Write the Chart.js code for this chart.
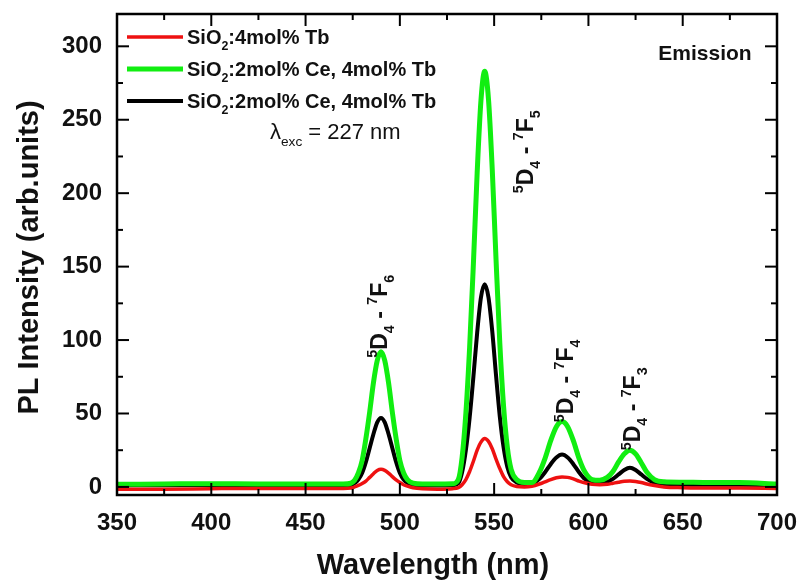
<!DOCTYPE html>
<html>
<head>
<meta charset="utf-8">
<script src="https://cdn.jsdelivr.net/npm/chart.js@4.4.1/dist/chart.umd.min.js"></script>
<style>
  html, body { margin: 0; padding: 0; background: #fff; }
  #wrap { width: 799px; height: 584px; }
</style>
</head>
<body>
<div id="wrap"><canvas id="myChart" width="799" height="584"></canvas></div>
<script>
// wavelength (nm) and PL intensity
const wavelengths = [350, 375, 400, 425, 450, 470, 474, 476, 478, 480, 482, 484, 486, 488, 490, 492, 494, 496, 498, 500, 502, 504, 507, 512, 520, 528, 531, 533, 535, 537, 539, 541, 543, 545, 547, 549, 551, 553, 555, 557, 559, 562, 566, 570, 574, 577, 580, 583, 586, 589, 592, 595, 598, 602, 606, 610, 613, 616, 619, 622, 625, 628, 631, 635, 640, 650, 665, 680, 700];

const tb4 = [-1.5, -1.5, -1.2, -1, -1, -1, -0.8, 0, 1, 2.3, 4, 6.5, 9, 11.2, 12, 11.3, 9.4, 7, 4.8, 3, 1.5, 0.5, -0.5, -1.2, -1.5, -1.2, -0.5, 1.5, 5, 10.5, 17.5, 25, 30.5, 33, 31, 26, 19, 12.5, 7, 3.5, 1.5, 0.3, 0, 0.5, 2, 3.5, 5, 6.2, 6.8, 6.5, 5.5, 4, 2.8, 1.8, 1.5, 1.8, 2.5, 3.2, 3.8, 4, 3.7, 3, 2, 1, 0, -0.5, -0.8, -0.8, -1];

const ceTbGreen = [1.8, 2, 2.2, 2, 2, 2, 2.5, 4.5, 9.5, 18, 33, 51, 71, 86, 92, 86, 71, 51, 33, 18, 9.5, 5, 2.6, 2, 2, 2.2, 5, 20, 50, 95, 152, 214, 263, 283, 264, 216, 155, 98, 55, 27, 12, 5, 3, 3, 10, 19.5, 31.5, 41, 44.5, 41, 31.5, 19.5, 10.5, 5, 4.5, 6.5, 10.5, 17, 22.5, 25, 22.5, 16.5, 10, 5, 3.5, 3.2, 3, 3, 2];

const ceTbBlack = [1, 1.2, 1.3, 1.2, 1, 1, 1.3, 2.5, 5, 9.5, 17, 26.5, 36, 44, 47, 44, 36, 26.5, 17, 9.5, 5, 2.8, 1.5, 1, 1, 1.2, 2.5, 10, 25, 47, 75, 105, 129, 138, 129, 106, 76, 48, 27, 13.5, 6.5, 3, 1.8, 2, 5.5, 10, 15.5, 20, 22, 20, 15.5, 10, 5.5, 2.8, 2.4, 3.5, 5.5, 8.5, 11.5, 13, 11.5, 8.5, 5.5, 2.8, 1.8, 1.5, 1.5, 1.4, 1.2];

const xTicks = [350, 400, 450, 500, 550, 600, 650, 700];
const xMinor = [375, 425, 475, 525, 575, 625, 675];
const yTicks = [0, 50, 100, 150, 200, 250, 300];
const yMinor = [25, 75, 125, 175, 225, 275];

// peak labels: [x nm, y value] where the rotated text starts, and the last subscript
const peakLabels = [
    { at: [493, 88], f: '6' },
    { at: [570.5, 200], f: '5' },
    { at: [592, 44], f: '4' },
    { at: [627.5, 25], f: '3' }
];

const FONT = '"Liberation Sans", Arial, Helvetica, sans-serif';

function pts(vals) {
    return wavelengths.map((w, i) => ({ x: w, y: vals[i] }));
}

// text with sub/superscripts, drawn left to right from (x, y)
function drawRich(ctx, parts, x, y, size, weight) {
    let cx = x;
    for (const p of parts) {
        const small = p.sub || p.sup;
        const s = small ? size * 0.62 : size;
        ctx.font = `${weight} ${s}px ${FONT}`;
        const dy = p.sub ? size * 0.3 : p.sup ? -size * 0.42 : 0;
        ctx.fillText(p.t, cx, y + dy);
        cx += ctx.measureText(p.t).width;
    }
    return cx;
}

const frame = {
    id: 'frame',
    afterDatasetsDraw(chart) {
        const { ctx, chartArea: a, scales } = chart;
        const xs = scales.x, ys = scales.y;
        ctx.save();
        ctx.strokeStyle = '#000';
        ctx.lineWidth = 2.5;
        ctx.strokeRect(a.left, a.top, a.right - a.left, a.bottom - a.top);

        // inward ticks on all four sides
        ctx.lineWidth = 2;
        const tick = (x1, y1, x2, y2) => { ctx.beginPath(); ctx.moveTo(x1, y1); ctx.lineTo(x2, y2); ctx.stroke(); };
        xTicks.forEach(v => { const px = xs.getPixelForValue(v); tick(px, a.bottom, px, a.bottom - 12); tick(px, a.top, px, a.top + 12); });
        xMinor.forEach(v => { const px = xs.getPixelForValue(v); tick(px, a.bottom, px, a.bottom - 6); tick(px, a.top, px, a.top + 6); });
        yTicks.forEach(v => { const py = ys.getPixelForValue(v); tick(a.left, py, a.left + 12, py); tick(a.right, py, a.right - 12, py); });
        yMinor.forEach(v => { const py = ys.getPixelForValue(v); tick(a.left, py, a.left + 6, py); tick(a.right, py, a.right - 6, py); });

        ctx.fillStyle = '#111';
        ctx.textAlign = 'left';
        ctx.textBaseline = 'alphabetic';

        // legend
        const rows = [
            { c: '#ee1111', w: 3.5, txt: ':4mol% Tb' },
            { c: '#11ee11', w: 5, txt: ':2mol% Ce, 4mol% Tb' },
            { c: '#000000', w: 4, txt: ':2mol% Ce, 4mol% Tb' }
        ];
        rows.forEach((r, i) => {
            const yy = a.top + 23 + i * 32;
            ctx.strokeStyle = r.c;
            ctx.lineWidth = r.w;
            tick(a.left + 10, yy, a.left + 66, yy);
            drawRich(ctx, [{ t: 'SiO' }, { t: '2', sub: true }, { t: r.txt }], a.left + 70, yy + 7, 20, 'bold');
        });

        // excitation wavelength
        drawRich(ctx, [{ t: 'λ' }, { t: 'exc', sub: true }, { t: ' = 227 nm' }], 270, 139, 22, 'normal');

        ctx.font = `bold 21px ${FONT}`;
        ctx.textAlign = 'center';
        ctx.fillText('Emission', a.right - 72, a.top + 46);

        // transition labels, rotated
        ctx.textAlign = 'left';
        peakLabels.forEach(p => {
            ctx.save();
            ctx.translate(xs.getPixelForValue(p.at[0]), ys.getPixelForValue(p.at[1]));
            ctx.rotate(-Math.PI / 2);
            drawRich(ctx, [{ t: '5', sup: true }, { t: 'D' }, { t: '4', sub: true }, { t: ' - ' }, { t: '7', sup: true }, { t: 'F' }, { t: p.f, sub: true }], 0, 0, 23, 'bold');
            ctx.restore();
        });

        // axis titles
        ctx.font = `bold 29px ${FONT}`;
        ctx.textAlign = 'center';
        ctx.textBaseline = 'middle';
        ctx.fillText('Wavelength (nm)', (a.left + a.right) / 2 - 14, 566);
        ctx.save();
        ctx.translate(30, (a.top + a.bottom) / 2 + 3);
        ctx.rotate(-Math.PI / 2);
        ctx.fillText('PL Intensity (arb.units)', 0, 0);
        ctx.restore();
        ctx.restore();
    }
};

const myChart = new Chart(document.getElementById('myChart').getContext('2d'), {
    type: 'line',
    data: {
        datasets: [
            { label: 'SiO2:4mol% Tb', data: pts(tb4), borderColor: '#ee1111', borderWidth: 3.5, order: 1 },
            { label: 'SiO2:2mol% Ce, 4mol% Tb', data: pts(ceTbGreen), borderColor: '#11ee11', borderWidth: 5, order: 0 },
            { label: 'SiO2:2mol% Ce, 4mol% Tb', data: pts(ceTbBlack), borderColor: '#000000', borderWidth: 4, order: 2 }
        ]
    },
    options: {
        responsive: false,
        animation: false,
        layout: { padding: { top: 14, right: 22, left: 0, bottom: 0 } },
        elements: { point: { radius: 0 }, line: { cubicInterpolationMode: 'monotone', fill: false } },
        plugins: { legend: { display: false }, tooltip: { enabled: false } },
        scales: {
            x: {
                type: 'linear', min: 350, max: 700,
                grid: { display: false }, border: { display: false },
                afterBuildTicks: (s) => { s.ticks = xTicks.map(v => ({ value: v })); },
                afterFit: (s) => { s.height = 89; s.paddingLeft = 0; s.paddingRight = 0; },
                ticks: { color: '#111', padding: 6, maxRotation: 0, font: { family: FONT, size: 24, weight: 'bold' } }
            },
            y: {
                min: -5.5, max: 322,
                grid: { display: false }, border: { display: false },
                afterBuildTicks: (s) => { s.ticks = yTicks.map(v => ({ value: v })); },
                afterFit: (s) => { s.width = 117; s.paddingTop = 0; s.paddingBottom = 0; },
                ticks: { color: '#111', padding: 7, font: { family: FONT, size: 24, weight: 'bold' } }
            }
        }
    },
    plugins: [frame]
});
</script>
</body>
</html>
